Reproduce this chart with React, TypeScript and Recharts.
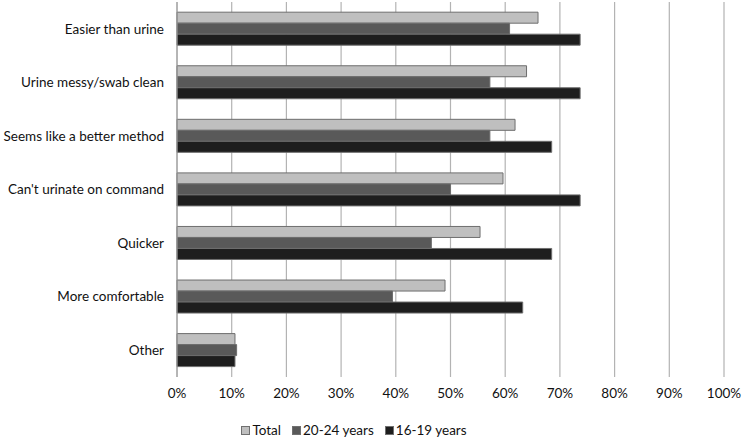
import React from 'react';
import { Bar, BarChart, CartesianGrid, Legend, XAxis, YAxis } from 'recharts';

const categories = [
  'Easier than urine',
  'Urine messy/swab clean',
  'Seems like a better method',
  "Can't urinate on command",
  'Quicker',
  'More comfortable',
  'Other',
];

const total = [66.0, 63.9, 61.8, 59.6, 55.4, 49.0, 10.6];
const age20to24 = [60.8, 57.2, 57.2, 50.0, 46.5, 39.4, 10.9];
const age16to19 = [73.7, 73.7, 68.5, 73.7, 68.5, 63.2, 10.6];

const xTicks = [0, 10, 20, 30, 40, 50, 60, 70, 80, 90, 100];

const series = [
  { key: 'total', name: 'Total', color: '#bfbfbf' },
  { key: 'age20to24', name: '20-24 years', color: '#595959' },
  { key: 'age16to19', name: '16-19 years', color: '#1e1e1e' },
];

const data = categories.map((name, i) => ({
  name,
  total: total[i],
  age20to24: age20to24[i],
  age16to19: age16to19[i],
}));

const FONT = 'Lato, "Open Sans", sans-serif';

// legend drawn by hand so the swatches get the grey outline
const ChartLegend = () => (
  <div
    style={{
      display: 'flex',
      justifyContent: 'center',
      gap: 11,
      fontFamily: FONT,
      fontSize: 13.5,
      color: '#111',
      marginTop: 17,
      marginLeft: -16,
    }}
  >
    {series.map(s => (
      <div key={s.key} style={{ display: 'flex', alignItems: 'center', gap: 2 }}>
        <span
          style={{
            display: 'inline-block',
            width: 7,
            height: 7,
            background: s.color,
            border: '1px solid #707070',
          }}
        />
        <span>{s.name}</span>
      </div>
    ))}
  </div>
);

export default function App() {
  return (
    <div style={{ position: 'absolute', left: 0, top: 0, background: '#fff' }}>
      <BarChart
        width={742}
        height={437}
        data={data}
        layout="vertical"
        margin={{ top: 2, right: 18, bottom: 0, left: 0 }}
        barCategoryGap="19%"
        barGap={0}
      >
        <CartesianGrid horizontal={false} stroke="#b3b3b3" strokeWidth={1.2} />
        <XAxis
          type="number"
          domain={[0, 100]}
          ticks={xTicks}
          tickFormatter={v => `${v}%`}
          axisLine={false}
          tickLine={false}
          tick={{ fill: '#111', fontSize: 13.5, fontFamily: FONT }}
          tickMargin={5}
          height={28}
          interval={0}
        />
        <YAxis
          type="category"
          dataKey="name"
          width={177}
          axisLine={{ stroke: '#9a9a9a' }}
          tickLine={false}
          tickSize={6}
          tickMargin={7}
          tick={{ fill: '#111', fontSize: 13.5, fontFamily: FONT }}
          interval={0}
        />
        <Legend verticalAlign="bottom" height={32} content={<ChartLegend />} />
        {series.map(s => (
          <Bar
            key={s.key}
            dataKey={s.key}
            name={s.name}
            fill={s.color}
            stroke="#6e6e6e"
            strokeWidth={1}
            isAnimationActive={false}
          />
        ))}
      </BarChart>
    </div>
  );
}
